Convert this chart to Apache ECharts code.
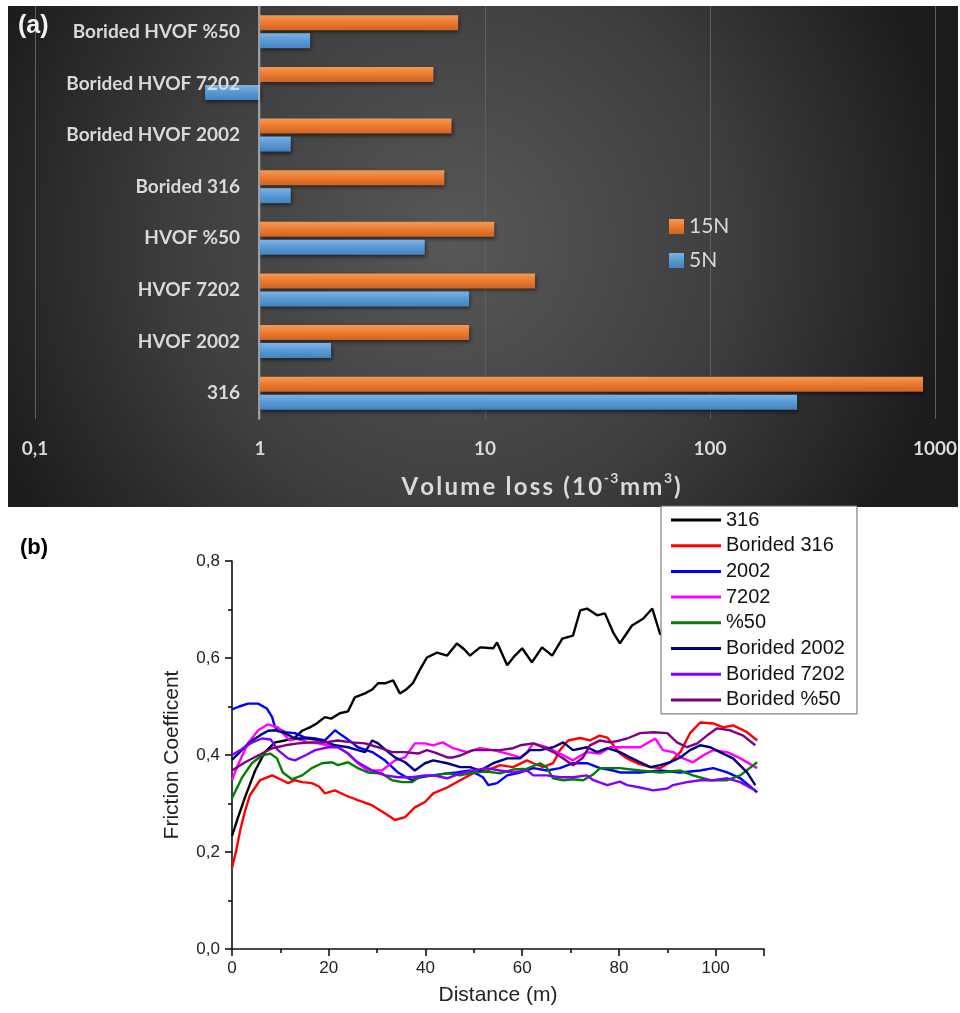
<!DOCTYPE html>
<html>
<head>
<meta charset="utf-8">
<title>Volume loss and friction coefficient</title>
<script src="https://cdn.jsdelivr.net/npm/echarts@6/dist/echarts.min.js"></script>
<style>
  html, body { margin: 0; padding: 0; background: #fff; }
  #chart { width: 960px; height: 1013px; }
</style>
</head>
<body>
<div id="chart"></div>
<script>
// ---- (a) wear volume loss, log scale (10^-3 mm^3) ----
const categories = ['316', 'HVOF 2002', 'HVOF 7202', 'HVOF %50', 'Borided 316',
  'Borided HVOF 2002', 'Borided HVOF 7202', 'Borided HVOF %50'];
const loss15N = [885, 8.5, 16.7, 11.0, 6.6, 7.1, 5.9, 7.6];
const loss5N = [244, 2.07, 8.5, 5.4, 1.37, 1.37, 0.57, 1.67];
const lossTickLabels = ['0,1', '1', '10', '100', '1000'];

// ---- (b) friction coefficient vs sliding distance (m) ----
const f316 = [[0,0.233],[1.2,0.27],[2.7,0.313],[4.8,0.368],[6.8,0.406],[8.9,0.426],[11,0.43],[13,0.436],[14.5,0.45],[16.1,0.457],[17.5,0.465],[19.2,0.478],[20.5,0.475],[22.3,0.486],[24,0.49],[25.4,0.519],[27.5,0.527],[29,0.535],[30.2,0.548],[31.8,0.548],[33.3,0.554],[34.7,0.527],[36,0.535],[37.4,0.548],[38.8,0.575],[40.3,0.601],[42.4,0.611],[44.5,0.605],[46.5,0.63],[48,0.618],[49.2,0.605],[51.3,0.622],[54,0.62],[54.8,0.632],[56.9,0.585],[58.5,0.605],[60,0.62],[62,0.591],[64.1,0.622],[66.2,0.605],[68.3,0.64],[70.5,0.646],[72,0.698],[73.4,0.702],[75.5,0.688],[77.1,0.692],[78.8,0.653],[80.2,0.63],[82.7,0.667],[85,0.681],[86.9,0.702],[88.5,0.65],[90,0.645]];
const fBorided316 = [[0,0.167],[0.8,0.2],[1.7,0.245],[2.7,0.285],[3.7,0.317],[5.8,0.348],[8.3,0.358],[10,0.35],[11.6,0.342],[13,0.348],[14.5,0.344],[16.5,0.342],[18,0.335],[19.2,0.321],[21.3,0.327],[23.4,0.317],[26,0.307],[27.5,0.302],[29,0.296],[31.6,0.28],[33.7,0.266],[35.8,0.272],[37.8,0.292],[39.9,0.303],[41.6,0.321],[44.5,0.333],[47.2,0.348],[49.8,0.362],[52.7,0.368],[55.4,0.379],[58.1,0.375],[61,0.389],[62.3,0.383],[64.3,0.375],[66.4,0.383],[67.8,0.41],[69.5,0.43],[72,0.435],[74,0.43],[76,0.44],[77.6,0.436],[80.2,0.403],[81.7,0.393],[83.8,0.383],[86.5,0.375],[88.5,0.373],[90.6,0.385],[92.7,0.406],[94.7,0.445],[96.8,0.467],[99.5,0.465],[101.6,0.457],[103.6,0.461],[106.5,0.447],[108.6,0.43]];
const f2002 = [[0,0.494],[1.5,0.5],[3.3,0.506],[5.4,0.506],[7.2,0.496],[8.3,0.478],[8.9,0.457],[11,0.447],[13,0.445],[15.1,0.436],[17.2,0.434],[19.2,0.43],[21.3,0.451],[22.8,0.44],[24.8,0.426],[26,0.416],[29,0.406],[31.6,0.389],[34.3,0.364],[37.2,0.348],[38.9,0.354],[41.6,0.358],[44.5,0.362],[46.5,0.364],[49.2,0.368],[51.9,0.354],[53,0.338],[54.8,0.342],[56.9,0.358],[59.6,0.364],[62.3,0.373],[65.1,0.368],[67.8,0.373],[70.5,0.383],[73.4,0.383],[76.1,0.373],[78.8,0.368],[80.2,0.364],[84.4,0.364],[88.5,0.368],[92.7,0.364],[96.8,0.368],[99.5,0.373],[102.4,0.364],[105.1,0.352],[108.6,0.323]];
const f7202 = [[0,0.348],[1.2,0.379],[3.3,0.424],[5.4,0.451],[7.4,0.463],[9.5,0.457],[11,0.44],[12,0.43],[13.4,0.434],[15.7,0.426],[17.8,0.424],[19.9,0.42],[21.9,0.416],[24,0.403],[26,0.383],[28.1,0.368],[31,0.368],[33.7,0.389],[35.8,0.395],[37.8,0.424],[39.9,0.424],[41.6,0.42],[43.6,0.426],[45.7,0.414],[48.6,0.406],[51.3,0.414],[54,0.41],[56.9,0.403],[59.6,0.395],[61,0.406],[62.3,0.424],[65.1,0.416],[67.8,0.403],[70.5,0.389],[73.4,0.406],[76.1,0.403],[78.2,0.416],[80.2,0.416],[84.4,0.416],[87.5,0.434],[89.1,0.41],[91.2,0.406],[93.3,0.393],[95.3,0.385],[97.4,0.399],[99.5,0.41],[102.4,0.406],[105.1,0.393],[108.6,0.373]];
const f50 = [[0,0.311],[2.1,0.354],[4.1,0.383],[6.2,0.399],[7.9,0.403],[9.3,0.393],[10.5,0.364],[12.4,0.35],[14.5,0.358],[16.5,0.373],[18.6,0.383],[20.7,0.385],[21.9,0.379],[24,0.385],[26,0.373],[28.1,0.364],[31,0.362],[33.1,0.348],[35.2,0.344],[37.2,0.344],[38.9,0.356],[41.6,0.358],[44.5,0.362],[47.2,0.358],[49.8,0.364],[52.7,0.366],[55.4,0.362],[58.1,0.37],[61,0.372],[63.7,0.383],[65,0.375],[66.4,0.352],[68.5,0.348],[70.5,0.35],[72.6,0.348],[74.7,0.36],[76.1,0.373],[80.2,0.373],[84.4,0.368],[88.5,0.364],[92.7,0.368],[95.3,0.358],[98.9,0.348],[102.4,0.348],[105.1,0.358],[108.6,0.385]];
const fBorided2002 = [[0,0.39],[1.5,0.405],[3,0.42],[4.5,0.432],[6,0.442],[7.5,0.45],[8.9,0.451],[11,0.445],[13,0.434],[15.7,0.434],[18.6,0.43],[21.3,0.42],[24,0.416],[26,0.41],[27.5,0.406],[29,0.43],[30.2,0.424],[32.3,0.406],[33.7,0.395],[35.8,0.385],[37.8,0.368],[39.9,0.383],[41.6,0.389],[44.5,0.383],[47.2,0.375],[49.2,0.375],[51.3,0.368],[54,0.383],[56.9,0.393],[59.6,0.393],[61.6,0.41],[63.7,0.41],[66.4,0.416],[68.5,0.426],[70.5,0.41],[73.4,0.416],[75.5,0.406],[77.6,0.414],[80.2,0.406],[82.3,0.395],[84.4,0.385],[86.5,0.375],[88.5,0.379],[90.6,0.385],[92.7,0.395],[94.7,0.41],[96.8,0.42],[98.9,0.416],[100.9,0.406],[103.6,0.393],[106.5,0.364],[108.2,0.338]];
const fBorided7202 = [[0,0.4],[2,0.412],[4,0.425],[6.2,0.434],[8,0.432],[9.5,0.41],[11.6,0.393],[13,0.389],[15.1,0.399],[17.2,0.41],[19.9,0.416],[21.9,0.416],[24,0.403],[26,0.385],[29,0.368],[31.6,0.358],[34.3,0.354],[37.2,0.354],[39.9,0.358],[41.6,0.358],[44.5,0.352],[47.2,0.362],[49.8,0.368],[52.7,0.373],[55.4,0.368],[58.1,0.364],[61,0.368],[62.3,0.358],[65.1,0.358],[67.8,0.354],[70.5,0.354],[73.4,0.358],[74.7,0.348],[77.6,0.338],[80.2,0.345],[81.7,0.338],[84.4,0.333],[87.1,0.327],[90,0.331],[91.2,0.338],[94.1,0.344],[96.8,0.348],[99.5,0.348],[102.4,0.352],[105.1,0.344],[108.2,0.327]];
const fBorided50 = [[0,0.368],[2.7,0.385],[5.4,0.399],[8.3,0.414],[11,0.42],[13.7,0.424],[16.5,0.426],[19.2,0.426],[21.9,0.43],[24.8,0.426],[27.5,0.424],[30.2,0.416],[33.1,0.406],[35.8,0.406],[38.5,0.403],[40.3,0.41],[42,0.405],[44.5,0.395],[45.7,0.395],[47.2,0.399],[49.8,0.41],[52.7,0.41],[55.4,0.41],[58.1,0.414],[59.6,0.42],[62.3,0.424],[64.3,0.416],[66.4,0.406],[68.5,0.393],[70.5,0.379],[72.6,0.395],[74,0.42],[76.1,0.43],[78.2,0.426],[80.2,0.43],[81.7,0.434],[84.4,0.445],[87.1,0.447],[90,0.445],[92,0.426],[94.1,0.416],[96.2,0.424],[98.2,0.44],[100.3,0.455],[103,0.451],[105.7,0.44],[108.2,0.42]];

const frictionNames = ['316', 'Borided 316', '2002', '7202', '%50', 'Borided 2002', 'Borided 7202', 'Borided %50'];
const frictionData = [f316, fBorided316, f2002, f7202, f50, fBorided2002, fBorided7202, fBorided50];
const frictionColors = ['#000000', '#ff0000', '#0000ff', '#ff00ff', '#008000', '#000080', '#8000ff', '#800080'];

const DARK_TEXT = '#d9d9d9';
const TOP_FONT = 'Lato, "Open Sans", sans-serif';
const BOTTOM_FONT = '"Liberation Sans", Arial, sans-serif';

function barFill(top, mid, bottom) {
  return {
    type: 'linear', x: 0, y: 0, x2: 0, y2: 1,
    colorStops: [{ offset: 0, color: top }, { offset: 0.45, color: mid }, { offset: 1, color: bottom }]
  };
}

// Wide-tracked rich text: every character becomes its own token so it can carry side padding.
function tracked(str, style) {
  return str.split('').map(ch => '{' + style + '|' + ch + '}').join('');
}

const chart = echarts.init(document.getElementById('chart'), null, { renderer: 'canvas' });

const frictionSeries = frictionNames.map((name, i) => ({
  name: name,
  type: 'line',
  xAxisIndex: 1,
  yAxisIndex: 1,
  data: frictionData[i],
  showSymbol: false,
  symbol: 'none',
  lineStyle: { color: frictionColors[i], width: 2.4 },
  itemStyle: { color: frictionColors[i] },
  z: 2 + i * 0.01
}));

chart.setOption({
  animation: false,
  backgroundColor: '#ffffff',
  graphic: [
    {
      type: 'rect', z: -10, silent: true,
      shape: { x: 8, y: 6, width: 950, height: 501 },
      style: {
        fill: {
          type: 'radial', x: 0.47, y: 0.47, r: 1.0,
          colorStops: [
            { offset: 0, color: '#585858' },
            { offset: 0.55, color: '#3e3e3e' },
            { offset: 1, color: '#1c1c1c' }
          ]
        }
      }
    },
    {
      type: 'text', left: 18, top: 14, z: 10, silent: true,
      style: { text: '(a)', fill: '#f2f2f2', font: 'bold 25px "Liberation Sans", Arial, sans-serif' }
    },
    {
      type: 'text', x: 541, y: 485, z: 10, silent: true,
      style: {
        text: tracked('Volume loss (10', 'a') + tracked('-3', 's') + tracked('mm', 'a') + tracked('3', 's') + tracked(')', 'a'),
        fill: DARK_TEXT,
        align: 'center', verticalAlign: 'middle',
        rich: {
          a: { fontSize: 24, fontWeight: 'bold', fontFamily: TOP_FONT, fill: DARK_TEXT, lineHeight: 28, verticalAlign: 'bottom', padding: [0, 1.1, 0, 1.1] },
          s: { fontSize: 14, fontWeight: 'bold', fontFamily: TOP_FONT, fill: DARK_TEXT, lineHeight: 28, verticalAlign: 'top', padding: [0, 0.6, 0, 0.6] }
        }
      }
    },
    {
      type: 'text', left: 20, top: 537, z: 10, silent: true,
      style: { text: '(b)', fill: '#000', font: 'bold 22px "Liberation Sans", Arial, sans-serif' }
    }
  ],
  legend: [
    {
      data: ['15N', '5N'],
      orient: 'vertical',
      left: 664, top: 211,
      itemWidth: 15, itemHeight: 15, itemGap: 13,
      icon: 'rect',
      selectedMode: false,
      textStyle: { color: DARK_TEXT, fontSize: 21, fontFamily: TOP_FONT, lineHeight: 21 }
    },
    {
      data: frictionNames,
      orient: 'vertical',
      left: 661, top: 506,
      padding: [4, 12, 4, 10],
      itemWidth: 50, itemHeight: 3, itemGap: 5.7,
      icon: 'rect',
      selectedMode: false,
      backgroundColor: '#ffffff',
      borderColor: '#666666', borderWidth: 1,
      textStyle: { color: '#111', fontSize: 20, fontFamily: BOTTOM_FONT, lineHeight: 20 }
    }
  ],
  grid: [
    { left: 35, top: 6, width: 901, height: 413 },
    { left: 232, top: 561, width: 532, height: 388 }
  ],
  xAxis: [
    {
      type: 'log', gridIndex: 0, logBase: 10, min: 0.1, max: 1000,
      axisLine: { show: false },
      axisTick: { show: false },
      splitLine: { show: true, lineStyle: { color: '#5f5f5f', width: 1 } },
      axisLabel: {
        color: DARK_TEXT, fontSize: 19, fontWeight: 'bold', fontFamily: TOP_FONT, margin: 20,
        formatter: v => lossTickLabels[Math.round(Math.log10(v)) + 1]
      }
    },
    {
      type: 'value', gridIndex: 1, min: 0, max: 110, interval: 20,
      axisLine: { show: true, onZero: false, lineStyle: { color: '#111', width: 1.6 } },
      axisTick: { show: true, length: 7, lineStyle: { color: '#111', width: 1.6 } },
      minorTick: { show: true, splitNumber: 2, length: 4, lineStyle: { color: '#111', width: 1.6 } },
      splitLine: { show: false },
      axisLabel: { color: '#222', fontSize: 17, fontFamily: BOTTOM_FONT, margin: 11, showMaxLabel: false },
      name: 'Distance (m)', nameLocation: 'middle', nameGap: 36,
      nameTextStyle: { color: '#222', fontSize: 21, fontFamily: BOTTOM_FONT }
    }
  ],
  yAxis: [
    {
      type: 'category', gridIndex: 0, data: categories, offset: -224, z: 5,
      axisLine: { show: true, lineStyle: { color: '#bfbfbf', width: 1.5 } },
      axisTick: { show: false },
      splitLine: { show: false },
      axisLabel: { color: DARK_TEXT, fontSize: 19, fontWeight: 'bold', fontFamily: TOP_FONT, margin: 19 }
    },
    {
      type: 'value', gridIndex: 1, min: 0, max: 0.8, interval: 0.2,
      axisLine: { show: true, onZero: false, lineStyle: { color: '#111', width: 1.6 } },
      axisTick: { show: true, length: 7, lineStyle: { color: '#111', width: 1.6 } },
      minorTick: { show: true, splitNumber: 2, length: 4, lineStyle: { color: '#111', width: 1.6 } },
      splitLine: { show: false },
      axisLabel: {
        color: '#222', fontSize: 17, fontFamily: BOTTOM_FONT, margin: 12,
        formatter: v => v.toFixed(1).replace('.', ',')
      },
      name: 'Friction Coefficent', nameLocation: 'middle', nameGap: 49,
      nameTextStyle: { color: '#222', fontSize: 21, fontFamily: BOTTOM_FONT }
    }
  ],
  series: [
    {
      name: '15N', type: 'bar', xAxisIndex: 0, yAxisIndex: 0,
      data: loss15N, barWidth: 15, barGap: '20%',
      itemStyle: {
        color: barFill('#f39a55', '#ed7d31', '#cf6421'),
        shadowColor: 'rgba(0,0,0,0.55)', shadowBlur: 4, shadowOffsetX: 1, shadowOffsetY: 2
      }
    },
    {
      name: '5N', type: 'bar', xAxisIndex: 0, yAxisIndex: 0,
      data: loss5N, barWidth: 15, barGap: '20%',
      itemStyle: {
        color: barFill('#7db3e3', '#5b9bd5', '#4383bf'),
        shadowColor: 'rgba(0,0,0,0.55)', shadowBlur: 4, shadowOffsetX: 1, shadowOffsetY: 2
      }
    }
  ].concat(frictionSeries)
});
</script>
</body>
</html>
